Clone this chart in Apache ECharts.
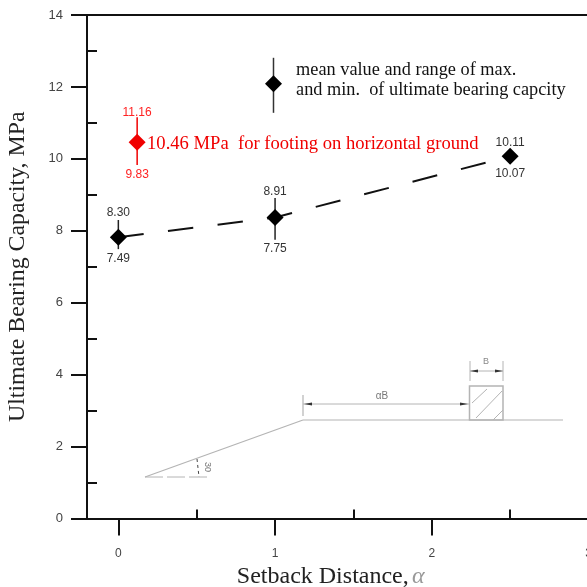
<!DOCTYPE html>
<html><head><meta charset="utf-8">
<style>html,body{margin:0;padding:0;background:#fff}#c{width:587px;height:587px}</style>
<script src="https://cdn.jsdelivr.net/npm/echarts@6/dist/echarts.min.js"></script>
</head><body><div id="c"></div>
<script>
// ---- data ----
const setback = [0, 1, 2.5];
const meanValues = [7.82, 8.37, 10.07];
const maxValues = [8.30, 8.91, 10.11];
const minValues = [7.49, 7.75, 10.07];
const horizontalX = [0.12];
const horizontalMean = [10.46];
const horizontalMax = [11.16];
const horizontalMin = [9.83];
const legendX = [0.99];
const legendMean = [12.09];
const legendMax = [12.81];
const legendMin = [11.28];
const xTickLabels = [0, 1, 2, 3];
const xMinorTicks = [0.5, 1.5, 2.5];
const yTickLabels = [0, 2, 4, 6, 8, 10, 12, 14];
const yMinorTicks = [1, 3, 5, 7, 9, 11, 13];
const legendLines = ['mean value and range of max.', 'and min.  of ultimate bearing capcity'];
const horizontalNote = '10.46 MPa  for footing on horizontal ground';

// ---- styles ----
const SERIF = '"Liberation Serif","Times New Roman",serif';
const SANS = '"Liberation Sans",Arial,sans-serif';
const SCHEM = '#b4b4b4';
const lineS = {stroke: SCHEM, lineWidth: 1.2};
const seg = (x1, y1, x2, y2, style) => ({type: 'line', shape: {x1, y1, x2, y2}, style: style || lineS, silent: true});
const tri = (pts) => ({type: 'polygon', shape: {points: pts}, style: {fill: '#333'}, silent: true});
const axisLine = {show: true, onZero: false, lineStyle: {color: '#111', width: 2}};

const bars = [];
setback.forEach((x, i) => bars.push([x, maxValues[i], minValues[i], '#222']));
horizontalX.forEach((x, i) => bars.push([x, horizontalMax[i], horizontalMin[i], '#f00000']));
legendX.forEach((x, i) => bars.push([x, legendMax[i], legendMin[i], '#333']));

function valueLabels(xs, vals, pos, color, gaps) {
  return xs.map((x, i) => ({
    value: [x, vals[i]],
    label: {show: true, position: pos, distance: gaps[i], formatter: vals[i].toFixed(2),
      fontFamily: SANS, fontSize: 12, color: color}
  }));
}
const note = (x, y, text, color, size) => ({
  value: [x, y],
  label: {show: true, position: 'right', distance: 0, formatter: text, color: color,
    fontFamily: SERIF, fontSize: size, fontWeight: 'normal'}
});
const ghost = {color: 'rgba(255,255,255,0)', opacity: 1};

const option = {
  animation: false,
  backgroundColor: '#fff',
  grid: {left: 87, top: 15, width: 501.5, height: 503.5, outerBoundsMode: 'none'},
  xAxis: [
    {type: 'value', min: -0.2, max: 3, position: 'bottom', splitLine: {show: false}, axisLine,
      axisTick: {show: true, length: 17, customValues: xTickLabels, lineStyle: {color: '#111', width: 2}},
      axisLabel: {customValues: xTickLabels, margin: 29, fontFamily: SANS, fontSize: 12, color: '#444', hideOverlap: false},
      name: '{a|Setback Distance,} {b|α}', nameLocation: 'middle', nameGap: 46,
      nameTextStyle: {padding: [0, 14, 0, 0], rich: {
        a: {fontFamily: SERIF, fontSize: 24, color: '#222'},
        b: {fontFamily: SERIF, fontSize: 24, color: '#999', fontStyle: 'italic'}}}},
    {type: 'value', min: -0.2, max: 3, position: 'bottom', splitLine: {show: false}, axisLine: {show: false, onZero: false},
      axisTick: {show: true, inside: true, length: 9, customValues: xMinorTicks, lineStyle: {color: '#111', width: 2}},
      axisLabel: {show: false}},
    {type: 'value', min: -0.2, max: 3, position: 'top', splitLine: {show: false}, axisLine,
      axisTick: {show: false}, axisLabel: {show: false}}
  ],
  yAxis: [
    {type: 'value', min: 0, max: 14, position: 'left', splitLine: {show: false}, axisLine,
      axisTick: {show: true, length: 16, customValues: yTickLabels, lineStyle: {color: '#111', width: 2}},
      axisLabel: {customValues: yTickLabels, margin: 24, fontFamily: SANS, fontSize: 13, color: '#444'},
      name: 'Ultimate Bearing Capacity, MPa', nameLocation: 'middle', nameGap: 57,
      nameTextStyle: {fontFamily: SERIF, fontSize: 23.8, color: '#222'}},
    {type: 'value', min: 0, max: 14, position: 'left', splitLine: {show: false}, axisLine: {show: false, onZero: false},
      axisTick: {show: true, inside: true, length: 10, customValues: yMinorTicks, lineStyle: {color: '#111', width: 2}},
      axisLabel: {show: false}}
  ],
  series: [
    {type: 'line', data: setback.map((x, i) => [x, meanValues[i]]), showSymbol: false, symbol: 'none', z: 2,
      lineStyle: {color: '#111', width: 2, type: [25.5, 24.5]}},
    {type: 'custom', data: bars, z: 3, clip: false,
      renderItem: (params, api) => {
        const x = api.value(0);
        const a = api.coord([x, api.value(1)]);
        const b = api.coord([x, api.value(2)]);
        return {type: 'line', shape: {x1: a[0], y1: a[1], x2: b[0], y2: b[1]},
          style: {stroke: bars[params.dataIndex][3], lineWidth: 1.5}};
      }, encode: {x: 0, y: [1, 2]}},
    {type: 'scatter', symbol: 'diamond', symbolSize: 17, z: 4, itemStyle: {color: '#000', opacity: 1},
      data: setback.map((x, i) => [x, meanValues[i]])},
    {type: 'scatter', symbol: 'diamond', symbolSize: 17, z: 4, itemStyle: {color: '#000', opacity: 1},
      data: legendX.map((x, i) => [x, legendMean[i]])},
    {type: 'scatter', symbol: 'diamond', symbolSize: 17, z: 4, itemStyle: {color: '#f00000', opacity: 1},
      data: horizontalX.map((x, i) => [x, horizontalMean[i]])},
    {type: 'scatter', symbolSize: 1, z: 5, itemStyle: ghost,
      data: valueLabels(setback, maxValues, 'top', '#333', [1, 0, 6]).concat(
        valueLabels(setback, minValues, 'bottom', '#333', [3, 2, 11]),
        valueLabels(horizontalX, horizontalMax, 'top', '#f22', [-2]),
        valueLabels(horizontalX, horizontalMin, 'bottom', '#f22', [3]))},
    {type: 'scatter', symbolSize: 1, z: 5, itemStyle: ghost,
      data: [note(1.131, 12.46, legendLines[0], '#111', 18.3),
             note(1.131, 11.92, legendLines[1], '#111', 18.3),
             note(0.18, 10.42, horizontalNote, '#f00000', 18.6)]}
  ],
  graphic: {elements: [
    seg(145, 477, 303, 420),
    seg(303, 420, 563, 420),
    seg(145, 477, 210, 477, {stroke: SCHEM, lineWidth: 1, lineDash: [18, 4]}),
    seg(303, 395, 303, 416),
    seg(303, 404, 469, 404, {stroke: SCHEM, lineWidth: 1}),
    tri([[304, 404], [312, 402.5], [312, 405.5]]),
    tri([[468, 404], [460, 402.5], [460, 405.5]]),
    {type: 'text', style: {x: 382, y: 396, text: 'αB', fill: '#777', font: '10px ' + SANS, align: 'center', verticalAlign: 'middle'}, silent: true},
    {type: 'rect', shape: {x: 469.5, y: 386, width: 33.5, height: 34}, style: {fill: 'none', stroke: SCHEM, lineWidth: 1.5}, silent: true},
    seg(472, 403, 487, 389, {stroke: SCHEM, lineWidth: 1}),
    seg(476, 418, 502, 391, {stroke: SCHEM, lineWidth: 1}),
    seg(493, 420, 503, 410, {stroke: SCHEM, lineWidth: 1}),
    seg(470, 361, 470, 381, {stroke: SCHEM, lineWidth: 1}),
    seg(503, 361, 503, 381, {stroke: SCHEM, lineWidth: 1}),
    seg(470, 371, 503, 371, {stroke: SCHEM, lineWidth: 1}),
    tri([[470, 371], [478, 369.5], [478, 372.5]]),
    tri([[503, 371], [495, 369.5], [495, 372.5]]),
    {type: 'text', style: {x: 486, y: 362, text: 'B', fill: '#888', font: '9px ' + SANS, align: 'center', verticalAlign: 'middle'}, silent: true},
    seg(197, 459, 199, 477, {stroke: '#444', lineWidth: 1, lineDash: [3, 3]}),
    {type: 'text', x: 207, y: 467, rotation: -Math.PI / 2,
      style: {x: 0, y: 0, text: '30', fill: '#777', font: '9px ' + SANS, align: 'center', verticalAlign: 'middle'}, silent: true}
  ]}
};
echarts.init(document.getElementById('c')).setOption(option);
</script></body></html>
